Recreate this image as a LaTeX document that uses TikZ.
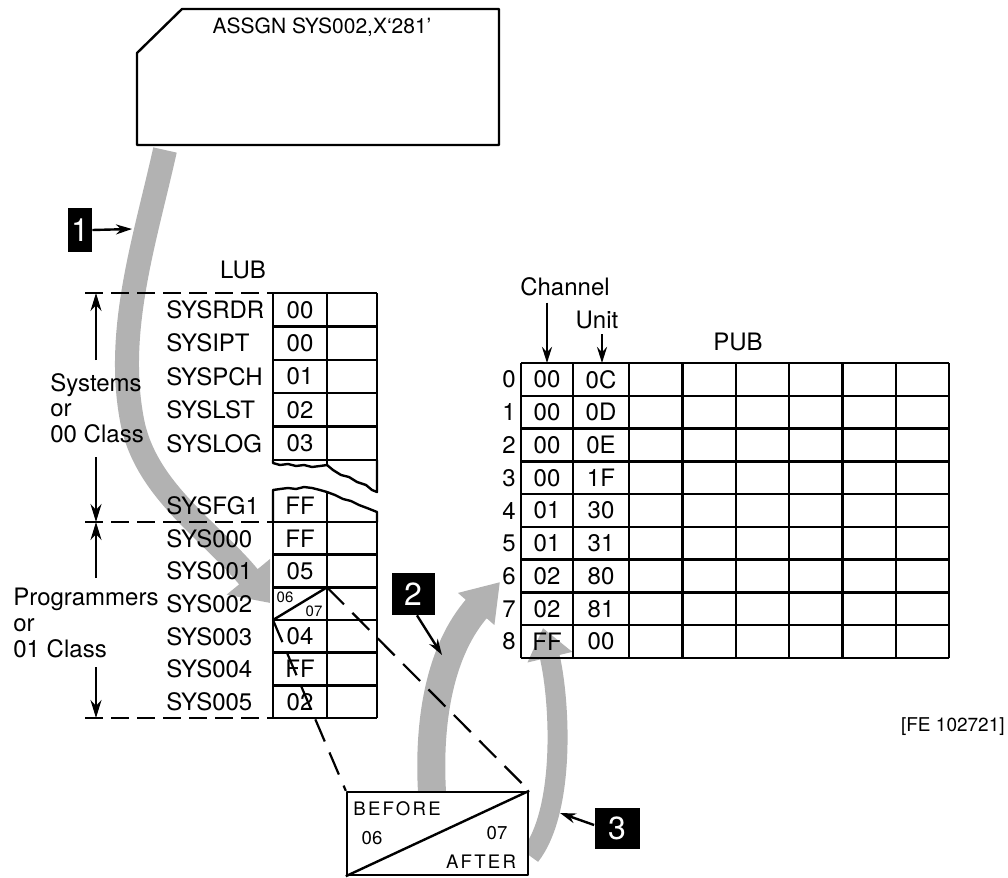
\documentclass[tikz,border=0pt]{standalone}
\usepackage{fontspec}
\setmainfont{TeX Gyre Heros}
\newfontfamily\spacedfont[LetterSpace=12]{TeX Gyre Heros}
\usetikzlibrary{arrows.meta}

\begin{document}
\begin{tikzpicture}[
    x=0.5pt,
    y=-0.5pt,
    every node/.style={font=\fontsize{12}{12.8}\selectfont, inner sep=0pt},
    tabline/.style={line width=1.2pt, line join=round},
    sysname/.style={anchor=west},
    smallnum/.style={font=\fontsize{7.5}{8}\selectfont},
    boxtext/.style={font=\fontsize{9.3}{10}\selectfont},
    flow/.style={draw=black!30, line cap=butt},
    badge/.style={fill=black, text=white, font=\fontsize{16}{16}\selectfont},
    pointer/.style={-{Stealth[length=8pt,width=5pt]}, line width=1.2pt},
    dim/.style={-{Stealth[length=9pt,width=5.5pt]}, line width=1pt},
    guide/.style={line width=1pt, dash pattern=on 9pt off 4pt},
    zoomline/.style={line width=1.1pt, dash pattern=on 12pt off 6pt}
]
    \useasboundingbox (0,0) rectangle (1008,878);

    \coordinate (f1s) at (165,150);
    \coordinate (f1e) at (270,603);
    \coordinate (f2s) at (432,792);
    \coordinate (f2e) at (500,582);
    \coordinate (f3s) at (530,856);
    \coordinate (f3e) at (543,628);
    \draw[flow, line width=12pt, -{Triangle[length=17pt,width=27pt]}]
        (f1s) .. controls (145,240) and (115,330) .. (132,420)
              .. controls (145,490) and (210,530) .. (f1e);
    \draw[flow, line width=14pt, -{Triangle[length=18pt,width=23pt]}]
        (f2s) .. controls (428,720) and (440,650) .. (f2e);
    \draw[flow, line width=10pt, -{Triangle[length=15pt,width=22pt]}]
        (f3s) .. controls (566,810) and (560,700) .. (f3e);

    \draw[tabline] (137,53) -- (182,9) -- (499,9) -- (499,145) -- (137,145) -- cycle;
    \node[font=\fontsize{10.5}{12}\selectfont] (cmd) at (322,27) {ASSGN SYS002,X‘281’};

    \node[badge, minimum width=12pt, minimum height=22pt] (m1) at (80,230) {1};
    \node[badge, minimum width=21.5pt, minimum height=21pt] (m2) at (413,594) {2};
    \node[badge, minimum width=22.5pt, minimum height=20.5pt] (m3) at (617,828) {3};
    \coordinate (hit1) at (132,229);
    \coordinate (hit2) at (442,655);
    \coordinate (hit3) at (560,813);
    \draw[pointer] (m1.east) -- (hit1);
    \draw[pointer] ([xshift=2pt]m2.south) -- (hit2);
    \draw[pointer] ([yshift=1.5pt]m3.west) -- (hit3);

    % LUB
    \node (lub) at (243,270) {LUB};
    \foreach \k in {0,...,5}
        \draw[tabline] (273,{293+33.4*\k}) -- (377,{293+33.4*\k});
    \foreach \x in {273,327,377}
        \draw[tabline] (\x,293) -- (\x,460);
    \draw[tabline] (273,460) -- (273,463) -- (280,465) -- (288,464) -- (296,466)
        -- (304,465) -- (312,467) -- (320,466) -- (327,465) -- (333,470) -- (341,475)
        -- (349,477) -- (357,482) -- (366,485) -- (372,490) -- (377,492) -- (377,460);
    \draw[tabline] (327,460) -- (327,465);
    \draw[tabline] (273,522) -- (273,490) -- (280,489) -- (288,488) -- (296,489)
        -- (304,487) -- (312,488) -- (320,490) -- (327,492) -- (335,495) -- (343,499)
        -- (351,501) -- (359,505) -- (367,508) -- (377,512) -- (377,522);
    \draw[tabline] (327,492) -- (327,522);
    \foreach \k in {0,...,6}
        \draw[tabline] (273,{522+32.667*\k}) -- (377,{522+32.667*\k});
    \foreach \x in {273,327,377}
        \draw[tabline] (\x,522) -- (\x,718);

    \foreach \lab/\val [count=\i] in {SYSRDR/00,SYSIPT/00,SYSPCH/01,SYSLST/02,SYSLOG/03}{
        \node[sysname] (sys\i) at (166,{276.3+33.4*\i}) {\lab};
        \node (lu\i) at (300,{276.3+33.4*\i}) {\val};
    }
    \node[sysname] (sysfg) at (166,506) {SYSFG1};
    \node (lufg) at (300,506) {FF};
    \foreach \lab/\val [count=\i] in {SYS000/FF,SYS001/05,SYS002/,SYS003/04,SYS004/FF,SYS005/02}{
        \node[sysname] (prg\i) at (166,{505.67+32.667*\i}) {\lab};
        \node (lp\i) at (300,{505.67+32.667*\i}) {\val};
    }

    \coordinate (splitlo) at (273,620);
    \coordinate (splithi) at (327,587.33);
    \draw[tabline] (splitlo) -- (splithi);
    \node[smallnum] (oldval) at (285,597) {06};
    \node[smallnum] (newval) at (314,611) {07};

    % groups
    \node[align=left, anchor=west] (sysgrp) at (50,408) {Systems\\or\\00 Class};
    \node[align=left, anchor=west] (prggrp) at (13,623) {Programmers\\or\\01 Class};
    \draw[guide] (85,293) -- (273,293);
    \draw[guide] (85,522) -- (273,522);
    \draw[guide] (85,718) -- (273,718);
    \draw[dim] (96,360) -- (96,293);
    \draw[dim] (96,457) -- (96,522);
    \draw[dim] (96,578) -- (96,522);
    \draw[dim] (96,667) -- (96,718);

    % before / after
    \node[draw, tabline, fill=white, minimum width=90.5pt, minimum height=41.5pt]
        (swap) at (437.5,833.5) {};
    \draw[tabline] (swap.south west) -- (swap.north east);
    \node[boxtext, anchor=west] (before) at (353,809) {\spacedfont BEFORE};
    \node[boxtext] (bval) at (372,838) {06};
    \node[boxtext] (aval) at (497,833) {07};
    \node[boxtext] (after) at (481,862) {\spacedfont AFTER};
    \draw[zoomline] (splitlo) -- (swap.north west);
    \draw[zoomline] (splithi) -- (swap.north east);

    % PUB
    \node (pub) at (738,342) {PUB};
    \node (chan) at (565,287) {Channel};
    \node (unitlbl) at (597,320) {Unit};
    \foreach \k in {0,...,9}
        \draw[tabline] (521,{363+32.78*\k}) -- (949,{363+32.78*\k});
    \foreach \x in {521,573,629,682.3,735.7,789,842.3,895.7,949}
        \draw[tabline] (\x,363) -- (\x,658);
    \foreach \ch/\un [count=\i from 0] in {00/0C,00/0D,00/0E,00/1F,01/30,01/31,02/80,02/81,FF/00}{
        \node (row\i) at (509,{379.4+32.78*\i}) {\i};
        \node (ch\i) at (547,{379.4+32.78*\i}) {\ch};
        \node (un\i) at (601,{379.4+32.78*\i}) {\un};
    }
    \coordinate (chtop) at (547,363);
    \coordinate (untop) at (602,363);
    \draw[pointer, shorten <=3pt] (chan.south -| chtop) -- (chtop);
    \draw[pointer, shorten <=2.5pt] (unitlbl.south -| untop) -- (untop);

    \node[anchor=east, font=\fontsize{9.5}{10}\selectfont] (figref) at (1005,727) {[FE 102721]};
\end{tikzpicture}
\end{document}
